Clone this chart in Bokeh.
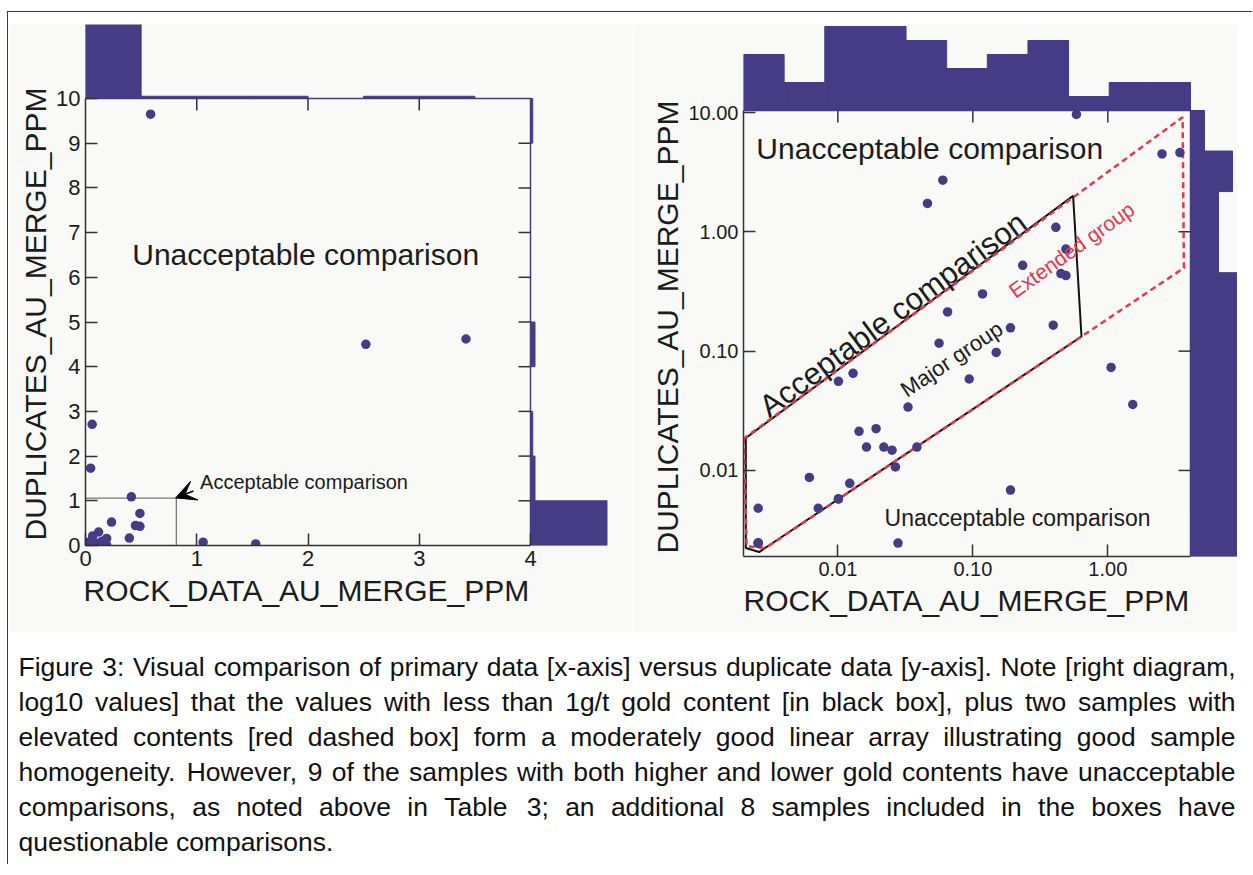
import numpy as np
from bokeh.plotting import figure
from bokeh.models import (Range1d, FixedTicker, Spacer, Arrow, VeeHead, ColumnDataSource,
                          CustomJSTickFormatter, LinearScale, Title)
from bokeh.layouts import column, row
from bokeh.embed import file_html
from bokeh.resources import INLINE
from bokeh.core.properties import value

# ---------------- data ----------------
rock_au = [0.00257, 0.00257, 0.00615, 0.00716, 0.0101, 0.01225, 0.0101, 0.01296,
           0.01435, 0.0192, 0.0163, 0.0219, 0.0252, 0.0267, 0.0331, 0.0385,
           0.0279, 0.0562, 0.0599, 0.0461, 0.585, 2.52, 3.42, 0.412,
           0.489, 0.234, 0.449, 0.489, 0.118, 0.065, 0.190, 0.394,
           0.149, 0.094, 1.057, 1.53, 0.19, 0.00257, 0.00257, 0.0101]
dup_au = [0.00482, 0.00246, 0.00874, 0.00482, 0.00577, 0.0078, 0.0559, 0.0652,
          0.0213, 0.0224, 0.0157, 0.0157, 0.0148, 0.0107, 0.034, 0.0157,
          0.00246, 0.1166, 2.71, 1.73, 9.65, 4.5, 4.62, 1.09,
          0.717, 0.524, 0.447, 0.43, 0.302, 0.213, 0.157, 0.165,
          0.0975, 0.0584, 0.0731, 0.0357, 0.00685, 0.00246, 0.00246, 0.00577]

lin_x_ticks = [0, 1, 2, 3, 4]
lin_y_ticks = [0, 1, 2, 3, 4, 5, 6, 7, 8, 9, 10]
log_x_ticks = [0.01, 0.1, 1.0]
log_x_tick_labels = ["0.01", "0.10", "1.00"]
log_y_ticks = [0.01, 0.1, 1.0, 10.0]
log_y_tick_labels = ["0.01", "0.10", "1.00", "10.00"]

x_title = "ROCK_DATA_AU_MERGE_PPM"
y_title = "DUPLICATES_AU_MERGE_PPM"

# group outlines on the log diagram (x, y pairs)
major_group_x = [0.00208, 0.00208, 0.00261, 0.638, 0.553, 0.00208]
major_group_y = [0.01873, 0.00224, 0.00207, 0.1326, 2.0, 0.01873]
extended_group_x = [0.00201, 0.00211, 0.00292, 3.66, 3.58, 0.00201]
extended_group_y = [0.01848, 0.00231, 0.00224, 0.498, 9.14, 0.01848]
accept_box_x = [0, 0.816, 0.816]
accept_box_y = [1.06, 1.06, 0]

caption_lines = [
    "Figure 3: Visual comparison of primary data [x-axis] versus duplicate data [y-axis]. Note [right diagram,",
    "log10 values] that the values with less than 1g/t gold content [in black box], plus two samples with",
    "elevated contents [red dashed box] form a moderately good linear array illustrating good sample",
    "homogeneity. However, 9 of the samples with both higher and lower gold contents have unacceptable",
    "comparisons, as noted above in Table 3; an additional 8 samples included in the boxes have",
    "questionable comparisons.",
]

# ---------------- style ----------------
BG = "#f9f9f7"
NAVY = "#463c85"
RED = "#e8364b"
INK = "#1c1c1c"
AXC = "#333333"
FONT = "Liberation Sans"

X_LIN = (0, 4)
Y_LIN = (0, 10)
X_LOG = (0.002, 4.096)
Y_LOG = (0.0019, 10.4)

# panel geometry (pixels)
L_MAIN_W, L_MAIN_H, L_TOP_H, L_SIDE_W = 445, 447, 74, 102
R_MAIN_W, R_MAIN_H, R_TOP_H, R_SIDE_W = 447, 446, 86, 47
PX_PER_COUNT_L = 2.25
PX_PER_COUNT_R = 14.0


def base_fig(**kw):
    p = figure(output_backend="svg", toolbar_location=None,
               background_fill_color=BG, border_fill_color=BG,
               outline_line_color=None, min_border=0, **kw)
    p.grid.visible = False
    return p


def style_axis(ax, ticks, fs, bounds, fmt=None):
    ax.ticker = FixedTicker(ticks=ticks, minor_ticks=[])
    ax.bounds = bounds
    ax.major_tick_in = 12
    ax.major_tick_out = 0
    ax.minor_tick_in = 0
    ax.minor_tick_out = 0
    ax.major_tick_line_color = AXC
    ax.major_tick_line_width = 1.5
    ax.axis_line_color = AXC
    ax.axis_line_width = 1.5
    ax.major_label_text_font = FONT
    ax.major_label_text_font_size = f"{fs}px"
    ax.major_label_text_color = INK
    ax.major_label_standoff = 5
    if fmt is not None:
        ax.formatter = fmt


def add_axis_titles(p, x_off, y_off, x_standoff, y_standoff):
    common = dict(text_font=FONT, text_font_size="30px", text_font_style="normal",
                  text_color=INK, align="left")
    p.add_layout(Title(text=x_title, offset=x_off, standoff=x_standoff, **common), "below")
    p.add_layout(Title(text=y_title, offset=y_off, standoff=y_standoff, **common), "left")


def label_fmt(vals, labs):
    return CustomJSTickFormatter(args=dict(vals=vals, labs=labs), code="""
        const i = vals.findIndex(v => Math.abs(Math.log10(v) - Math.log10(tick)) < 1e-6);
        return i >= 0 ? labs[i] : "";
    """)


# ---------------- histograms ----------------
cLx, eLx = np.histogram(rock_au, bins=8, range=X_LIN)
cLy, eLy = np.histogram(dup_au, bins=10, range=Y_LIN)
cRx, eRx = np.histogram(np.log10(rock_au), bins=11, range=tuple(np.log10(X_LOG)))
cRy, eRy = np.histogram(np.log10(dup_au), bins=11, range=tuple(np.log10(Y_LOG)))

# ================= LEFT (linear) =================
xL_end = X_LIN[0] + (X_LIN[1] - X_LIN[0]) * (L_MAIN_W + L_SIDE_W) / L_MAIN_W
yL_end = Y_LIN[0] + (Y_LIN[1] - Y_LIN[0]) * (L_MAIN_H + L_TOP_H) / L_MAIN_H
pL = base_fig(x_range=Range1d(X_LIN[0], xL_end), y_range=Range1d(Y_LIN[0], yL_end),
              frame_width=L_MAIN_W + L_SIDE_W, frame_height=L_MAIN_H + L_TOP_H,
              min_border_left=77, min_border_bottom=87)
pL.extra_y_ranges = {"cnt": Range1d(-L_MAIN_H / PX_PER_COUNT_L, L_TOP_H / PX_PER_COUNT_L)}
pL.extra_x_ranges = {"cnt": Range1d(-L_MAIN_W / PX_PER_COUNT_L, L_SIDE_W / PX_PER_COUNT_L)}
style_axis(pL.xaxis[0], lin_x_ticks, 22, X_LIN)
style_axis(pL.yaxis[0], lin_y_ticks, 22, Y_LIN)
add_axis_titles(pL, -2, 5, 7, 3)

# marginal histograms
pL.quad(left=eLx[:-1], right=eLx[1:], bottom=0, top=cLx, y_range_name="cnt",
        fill_color=NAVY, line_color=NAVY, line_width=1)
pL.quad(left=0, right=cLy, bottom=eLy[:-1], top=eLy[1:], x_range_name="cnt",
        fill_color=NAVY, line_color=NAVY, line_width=1)
# top / right edges of the scatter box and inward ticks there
pL.line([X_LIN[0], X_LIN[1], X_LIN[1]], [Y_LIN[1], Y_LIN[1], Y_LIN[0]],
        line_color=NAVY, line_width=1.5)
pL.ray(x=lin_x_ticks[1:-1], y=[Y_LIN[1]] * (len(lin_x_ticks) - 2), length=12,
       angle=-np.pi / 2, length_units="screen", line_color=AXC, line_width=1.5)
pL.ray(x=[X_LIN[1]] * (len(lin_y_ticks) - 2), y=lin_y_ticks[1:-1], length=12,
       angle=np.pi, length_units="screen", line_color=AXC, line_width=1.5)

pL.line(accept_box_x, accept_box_y, line_color="#555555", line_width=1)
pL.scatter(rock_au, dup_au, size=9.5, fill_color=NAVY, line_color=None)
pL.text(x=[0.42], y=[6.5], text=["Unacceptable comparison"], text_font=value(FONT),
        text_font_size=value("30px"), text_color=INK, text_align="left", text_baseline="middle")
pL.text(x=[1.03], y=[1.41], text=["Acceptable comparison"], text_font=value(FONT),
        text_font_size=value("20px"), text_color=INK, text_align="left", text_baseline="middle")
pL.add_layout(Arrow(end=VeeHead(size=20, fill_color="black", line_color="black"),
                    x_start=0.97, y_start=1.22, x_end=0.81, y_end=1.065,
                    line_color="black", line_width=1.5))

# ================= RIGHT (log) =================
lx0, lx1 = np.log10(X_LOG)
ly0, ly1 = np.log10(Y_LOG)
xR_end = 10 ** (lx1 + (lx1 - lx0) * R_SIDE_W / R_MAIN_W)
yR_end = 10 ** (ly1 + (ly1 - ly0) * R_TOP_H / R_MAIN_H)
pR = base_fig(x_range=Range1d(X_LOG[0], xR_end), y_range=Range1d(Y_LOG[0], yR_end),
              x_axis_type="log", y_axis_type="log",
              frame_width=R_MAIN_W + R_SIDE_W, frame_height=R_MAIN_H + R_TOP_H,
              min_border_left=111, min_border_bottom=76)
pR.extra_y_ranges = {"cnt": Range1d(-R_MAIN_H / PX_PER_COUNT_R, R_TOP_H / PX_PER_COUNT_R)}
pR.extra_x_ranges = {"cnt": Range1d(-R_MAIN_W / PX_PER_COUNT_R, R_SIDE_W / PX_PER_COUNT_R)}
pR.extra_y_scales = {"cnt": LinearScale()}
pR.extra_x_scales = {"cnt": LinearScale()}
style_axis(pR.xaxis[0], log_x_ticks, 20, X_LOG, label_fmt(log_x_ticks, log_x_tick_labels))
style_axis(pR.yaxis[0], log_y_ticks, 20, Y_LOG, label_fmt(log_y_ticks, log_y_tick_labels))
add_axis_titles(pR, 0, 3, 7, 4)

pR.quad(left=10 ** eRx[:-1], right=10 ** eRx[1:], bottom=0, top=cRx, y_range_name="cnt",
        fill_color=NAVY, line_color=NAVY, line_width=1)
pR.quad(left=0, right=cRy, bottom=10 ** eRy[:-1], top=10 ** eRy[1:], x_range_name="cnt",
        fill_color=NAVY, line_color=NAVY, line_width=1)
pR.line([X_LOG[0], X_LOG[1], X_LOG[1]], [Y_LOG[1], Y_LOG[1], Y_LOG[0]],
        line_color=NAVY, line_width=1.5)
pR.ray(x=log_x_ticks, y=[Y_LOG[1]] * len(log_x_ticks), length=12,
       angle=-np.pi / 2, length_units="screen", line_color=AXC, line_width=1.5)
pR.ray(x=[X_LOG[1]] * 3, y=log_y_ticks[:3], length=12,
       angle=np.pi, length_units="screen", line_color=AXC, line_width=1.5)

pR.line(major_group_x, major_group_y, line_color="#111111", line_width=2)
pR.line(extended_group_x, extended_group_y, line_color=RED, line_width=2.5, line_dash="6 4")
pR.scatter(rock_au, dup_au, size=9.5, fill_color=NAVY, line_color=None)
pR.text(x=[0.00249], y=[5.0], text=["Unacceptable comparison"], text_font=value(FONT),
        text_font_size=value("30px"), text_color=INK, text_align="left", text_baseline="middle")
pR.text(x=[0.0222], y=[0.00398], text=["Unacceptable comparison"], text_font=value(FONT),
        text_font_size=value("23px"), text_color=INK, text_align="left", text_baseline="middle")
pR.text(x=[0.02555], y=[0.2034], text=["Acceptable comparison"], angle=0.6346,
        text_font=value(FONT), text_font_size=value("31px"), text_color=INK,
        text_align="center", text_baseline="alphabetic")
pR.text(x=[0.0697], y=[0.0858], text=["Major group"], angle=0.588,
        text_font=value(FONT), text_font_size=value("22px"), text_color=INK,
        text_align="center", text_baseline="middle")
pR.text(x=[0.539], y=[0.708], text=["Extended group"], angle=0.62,
        text_font=value(FONT), text_font_size=value("21px"), text_color=RED,
        text_align="center", text_baseline="middle")

# ================= caption =================
AW = {' ': 278, ',': 278, '-': 333, '.': 278, '/': 278, ':': 278, ';': 278, '[': 278, ']': 278,
      'A': 667, 'B': 667, 'C': 722, 'D': 722, 'E': 667, 'F': 611, 'G': 778, 'H': 722, 'I': 278,
      'J': 500, 'K': 667, 'L': 556, 'M': 833, 'N': 722, 'O': 778, 'P': 667, 'Q': 778, 'R': 722,
      'S': 667, 'T': 611, 'U': 722, 'V': 667, 'W': 944, 'X': 667, 'Y': 667, 'Z': 611,
      'a': 556, 'b': 556, 'c': 500, 'd': 556, 'e': 556, 'f': 278, 'g': 556, 'h': 556, 'i': 222,
      'j': 222, 'k': 500, 'l': 222, 'm': 833, 'n': 556, 'o': 556, 'p': 556, 'q': 556, 'r': 333,
      's': 500, 't': 278, 'u': 556, 'v': 500, 'w': 722, 'x': 500, 'y': 500, 'z': 500}


def em_width(s):
    return sum(AW.get(ch, 556) for ch in s) / 1000.0


CAP_W, CAP_H = 1229, 232
cap_left, cap_right = 10.0, 1227.0
cap_top, cap_step = 34.0, 35.0
max_em = max(em_width(l) for l in caption_lines[:-1])
cap_fs = min(27.0, (cap_right - cap_left) / max_em * 0.985)

words, wx, wy = [], [], []
for i, line in enumerate(caption_lines):
    toks = line.split(" ")
    widths = [em_width(t) * cap_fs for t in toks]
    if i < len(caption_lines) - 1:
        gap = (cap_right - cap_left - sum(widths)) / (len(toks) - 1)
    else:
        gap = em_width(" ") * cap_fs
    x = cap_left
    for t, w in zip(toks, widths):
        words.append(t)
        wx.append(x)
        wy.append(cap_top + i * cap_step)
        x += w + gap

cap = figure(output_backend="svg", toolbar_location=None,
             x_range=Range1d(0, CAP_W), y_range=Range1d(CAP_H, 0),
             frame_width=CAP_W, frame_height=CAP_H, min_border=0,
             x_axis_location=None, y_axis_location=None, outline_line_color=None,
             background_fill_color="white", border_fill_color="white")
cap.grid.visible = False
cap.text(x="x", y="y", text="w", source=ColumnDataSource(dict(x=wx, y=wy, w=words)),
         text_font=value(FONT), text_font_size=value(f"{cap_fs:.2f}px"), text_color="#111111",
         text_align="left", text_baseline="middle")

inner = column(Spacer(width=CAP_W + 15, height=12), row(pL, pR), cap,
               styles={"border-top": "1px solid #3a3a3a", "border-left": "1px solid #3a3a3a"})
root = row(Spacer(width=7, height=10), column(Spacer(width=10, height=11), inner))

open("out.html", "w").write(file_html(root, INLINE))
